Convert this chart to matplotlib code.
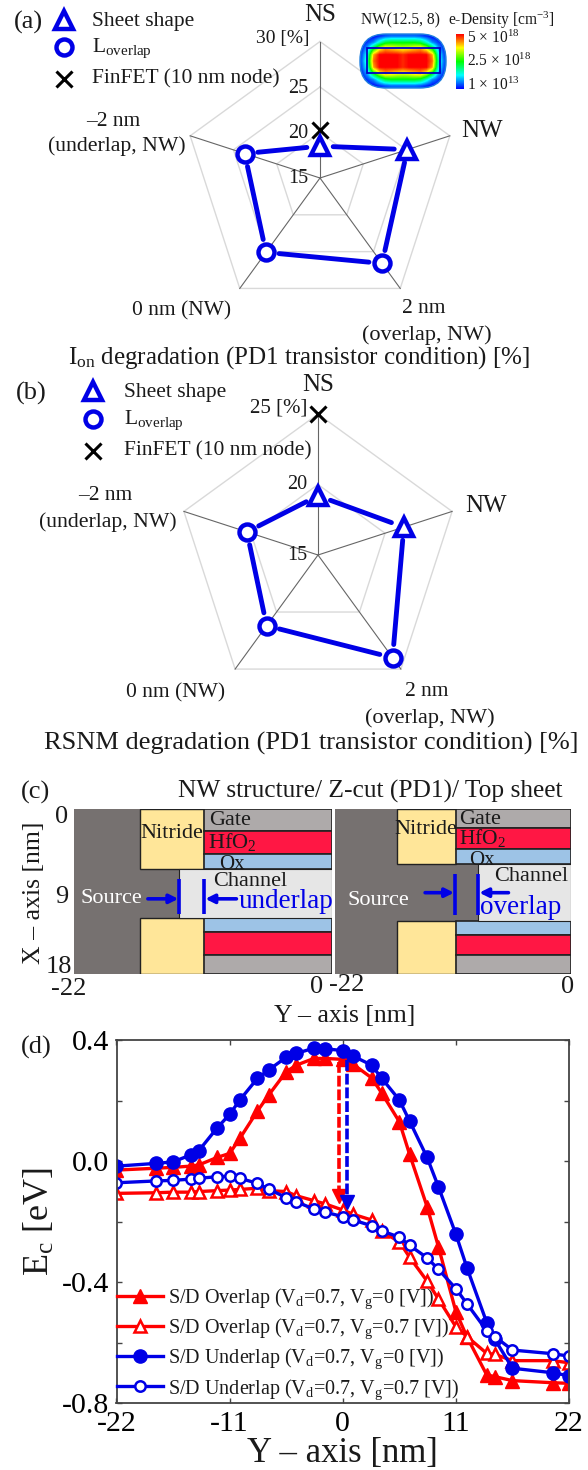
import numpy as np
import matplotlib
matplotlib.use('Agg')
import matplotlib.pyplot as plt
from matplotlib.colors import LinearSegmentedColormap
from matplotlib.patches import FancyBboxPatch, Rectangle
from matplotlib.cm import ScalarMappable

plt.rcParams['font.family'] = ['Liberation Serif', 'DejaVu Serif']
plt.rcParams['mathtext.fontset'] = 'custom'
plt.rcParams['mathtext.rm'] = 'Liberation Serif'
plt.rcParams['mathtext.it'] = 'Liberation Serif:italic'
plt.rcParams['mathtext.bf'] = 'Liberation Serif:bold'
plt.rcParams['axes.unicode_minus'] = False

# radar data, axes run clockwise from NS
radar_axes = ['NS', 'NW', '2 nm', '0 nm', '-2 nm']
a_values = [18.5, 25.1, 26.6, 25.1, 23.7]
a_finfet = 20.3
a_rings = [20, 25, 30]
b_values = [19.2, 21.4, 24.0, 21.2, 20.3]
b_finfet = 25
b_rings = [20, 25]

# e-density inset, units of 1e18 cm-3
density = [
    [0.0, 0.0, 0.0, 0.2, 0.4, 0.5, 0.5, 0.5, 0.5, 0.5, 0.4, 0.2, 0.0, 0.0, 0.0],
    [0.0, 0.3, 0.7, 1.5, 2.2, 2.4, 2.4, 2.4, 2.4, 2.4, 2.2, 1.5, 0.7, 0.3, 0.0],
    [0.2, 0.9, 2.4, 3.6, 4.2, 4.0, 3.8, 3.7, 3.8, 4.0, 4.2, 3.6, 2.4, 0.9, 0.2],
    [0.4, 1.5, 4.2, 5.0, 5.0, 5.0, 5.0, 4.8, 5.0, 5.0, 5.0, 5.0, 4.2, 1.5, 0.4],
    [0.5, 1.8, 4.5, 5.0, 5.0, 5.0, 5.0, 4.8, 5.0, 5.0, 5.0, 5.0, 4.5, 1.8, 0.5],
    [0.4, 1.5, 4.2, 5.0, 5.0, 5.0, 5.0, 4.8, 5.0, 5.0, 5.0, 5.0, 4.2, 1.5, 0.4],
    [0.2, 0.9, 2.4, 3.6, 4.2, 4.0, 3.8, 3.7, 3.8, 4.0, 4.2, 3.6, 2.4, 0.9, 0.2],
    [0.0, 0.3, 0.7, 1.5, 2.2, 2.4, 2.4, 2.4, 2.4, 2.4, 2.2, 1.5, 0.7, 0.3, 0.0],
    [0.0, 0.0, 0.0, 0.2, 0.4, 0.5, 0.5, 0.5, 0.5, 0.5, 0.4, 0.2, 0.0, 0.0, 0.0],
]

# structure layers for (c): spacer_end, channel_start, then X boundaries
under_spacer = (-16.33, -10.94)
under_channel_y = -13.03
under_x = [2.44, 4.87, 6.55, 11.9, 13.45, 15.96]
over_spacer = (-16.2, -10.75)
over_channel_y = -8.66
over_x = [2.07, 4.36, 5.96, 12.18, 13.7, 15.96]

# Ec profiles for (d)
y_pos = [-22, -18.2, -16.5, -14.8, -14, -12.2, -11, -10, -8.3, -7.2, -5.5, -4.5, -2.8, -1.7,
         0, 1, 2.8, 3.8, 5.5, 6.5, 8.2, 9.3, 11, 12.1, 14, 14.8, 16.5, 20.4, 22]
over_vg0 = [-.03, -.024, -.021, -.017, -.013, .012, .025, .075, .165, .218, .295, .317, .339, .339,
            .336, .32, .275, .224, .13, .022, -.151, -.283, -.498, -.583, -.707, -.713, -.726, -.733, -.735]
over_vg7 = [-.107, -.105, -.103, -.103, -.101, -.098, -.096, -.094, -.09, -.098, -.101, -.115, -.131, -.142,
            -.162, -.176, -.195, -.233, -.267, -.318, -.397, -.456, -.548, -.581, -.636, -.639, -.66, -.66, -.667]
under_vg0 = [-.017, -.008, -.003, .02, .034, .11, .154, .202, .273, .301, .343, .356, .373, .371,
             .365, .347, .317, .273, .202, .132, .012, -.085, -.242, -.355, -.534, -.59, -.685, -.70, -.71]
under_vg7 = [-.072, -.066, -.064, -.06, -.057, -.052, -.05, -.057, -.074, -.093, -.121, -.135, -.159, -.169,
             -.184, -.195, -.214, -.231, -.252, -.279, -.32, -.358, -.422, -.473, -.561, -.581, -.625, -.637, -.645]

BLUE = '#0000e6'
RED = '#ff0000'
TXT = '#1a1a1a'
W, H = 588, 1470

fig = plt.figure(figsize=(W / 100, H / 100), dpi=100, facecolor='white')


def rect(x0, y0, x1, y1):
    # pixel box -> figure fractions
    return [x0 / W, 1 - y1 / H, (x1 - x0) / W, (y1 - y0) / H]


def radar(cx, cy, R, rmax, rings, values, finfet):
    ax = fig.add_axes(rect(cx - R, cy - R, cx + R, cy + R), projection='polar')
    ax.set_theta_zero_location('N')
    ax.set_theta_direction(-1)
    ax.set_ylim(15, rmax)
    ax.set_axis_off()
    th = np.deg2rad(np.arange(5) * 72.0)
    thc = np.append(th, th[0])
    for r in rings:
        ax.plot(thc, [r] * 6, color='#d9d9d9', lw=1.0, clip_on=False)
    for t in th:
        ax.plot([t, t], [15, rmax], color='#666666', lw=0.8, clip_on=False)
    for i in range(5):
        j = (i + 1) % 5
        ax.annotate('', xy=(th[j], values[j]), xytext=(th[i], values[i]),
                    arrowprops=dict(arrowstyle='-', color=BLUE, lw=3.5, shrinkA=9.5, shrinkB=9.5))
    ax.plot(th[:2], values[:2], ls='none', marker='^', ms=13, mfc='white', mec=BLUE, mew=3.2, clip_on=False, zorder=5)
    ax.plot(th[2:], values[2:], ls='none', marker='o', ms=11.5, mfc='white', mec=BLUE, mew=3.2, clip_on=False, zorder=5)
    ax.plot([0], [finfet], ls='none', marker='x', ms=11, mec='black', mew=2.2, clip_on=False, zorder=4)
    return ax


radar(320, 178, 136.5, 30, a_rings, a_values, a_finfet)
radar(318, 555, 141, 25, b_rings, b_values, b_finfet)

# density inset
cmap = LinearSegmentedColormap.from_list('dens', ['#0000ff', '#00ffff', '#00ff00', '#ffff00', '#ff0000'])
ax_in = fig.add_axes(rect(359, 33, 447, 89))
ax_in.set_axis_off()
im = ax_in.imshow(density, cmap=cmap, vmin=0, vmax=5, aspect='auto', interpolation='bilinear',
                  extent=(0, 88, 56, 0))
clip = FancyBboxPatch((1, 1), 86, 54, boxstyle='round,pad=0,rounding_size=26', mutation_aspect=1,
                      transform=ax_in.transData, fc='none', ec='#1c7fe0', lw=1.0)
ax_in.add_patch(clip)
im.set_clip_path(clip)
ax_in.add_patch(Rectangle((8, 15), 73, 25, fc='none', ec='#0000c8', lw=1.3))
cax = fig.add_axes(rect(456, 34, 464, 89))
cb = fig.colorbar(ScalarMappable(cmap=cmap), cax=cax)
cb.set_ticks([])
cb.outline.set_visible(False)


def panel(box, spacer, channel_y, xs):
    ax = fig.add_axes(rect(*box))
    ax.set_xlim(-22, 0)
    ax.set_ylim(18, 0)
    ax.set_axis_off()
    s0, s1 = spacer
    ax.add_patch(Rectangle((-22, 0), 22, 18, fc='#767170', ec='none'))
    ax.add_patch(Rectangle((s0, 0), s1 - s0, xs[2], fc='#ffe699', ec='#222222', lw=1))
    ax.add_patch(Rectangle((s0, xs[3]), s1 - s0, 18 - xs[3], fc='#ffe699', ec='#222222', lw=1))
    tops = [0, xs[0], xs[1], xs[3], xs[4], xs[5]]
    bots = [xs[0], xs[1], xs[2], xs[4], xs[5], 18]
    cols = ['#aeaaaa', '#ff1744', '#9dc3e6', '#9dc3e6', '#ff1744', '#aeaaaa']
    for t, b, c in zip(tops, bots, cols):
        ax.add_patch(Rectangle((s1, t), -s1, b - t, fc=c, ec='#222222', lw=1.2))
    ax.add_patch(Rectangle((channel_y, xs[2]), -channel_y, xs[3] - xs[2], fc='#e6e6e6', ec='#222222', lw=0.8))
    return ax


ax_l = panel((74, 809, 332, 974), under_spacer, under_channel_y, under_x)
ax_r = panel((335, 809, 571, 974), over_spacer, over_channel_y, over_x)


def marks(ax, bars, x_rng, x_arrow, a_from, a_to):
    for b in bars:
        ax.plot([b, b], x_rng, color=BLUE, lw=2.6, solid_capstyle='butt')
    for f, t in zip(a_from, a_to):
        ax.annotate('', xy=(t, x_arrow), xytext=(f, x_arrow),
                    arrowprops=dict(arrowstyle='-|>', color=BLUE, lw=2.6, mutation_scale=13, shrinkA=0, shrinkB=0))


marks(ax_l, [-13.03, -10.9], [7.6, 11.5], 9.8, [-15.7, -8.15], [-13.1, -10.8])
marks(ax_r, [-10.8, -8.66], [7.1, 11.6], 9.13, [-13.6, -5.83], [-10.9, -8.55])

# Ec plot
ax = fig.add_axes(rect(116.5, 1040, 569, 1403))
ax.set_xlim(-22, 22)
ax.set_ylim(-0.8, 0.4)
ax.plot(y_pos, over_vg0, color=RED, lw=2.4, marker='^', ms=10, label=r'S/D Overlap (V$_{\mathrm{d}}$=0.7, V$_{\mathrm{g}}$=0 [V])')
ax.plot(y_pos, over_vg7, color=RED, lw=2.4, marker='^', ms=8, mfc='white', mew=1.8,
        label=r'S/D Overlap (V$_{\mathrm{d}}$=0.7, V$_{\mathrm{g}}$=0.7 [V])')
ax.plot(y_pos, under_vg0, color=BLUE, lw=2.4, marker='o', ms=9.5, label=r'S/D Underlap (V$_{\mathrm{d}}$=0.7, V$_{\mathrm{g}}$=0 [V])')
ax.plot(y_pos, under_vg7, color=BLUE, lw=2.4, marker='o', ms=7.5, mfc='white', mew=1.8,
        label=r'S/D Underlap (V$_{\mathrm{d}}$=0.7, V$_{\mathrm{g}}$=0.7 [V])')
ax.plot([-0.33, -0.33], [0.328, -0.10], color=RED, lw=2.6, ls=(0, (3, 0.8)), zorder=6)
ax.plot([-0.33], [-0.115], color=RED, marker='v', ms=10, ls='none', zorder=6)
ax.plot([0.39, 0.39], [0.334, -0.12], color=BLUE, lw=2.6, ls=(0, (3, 0.8)), zorder=6)
ax.plot([0.39], [-0.135], color=BLUE, marker='v', ms=10, ls='none', zorder=6)
ax.set_xticks([-22, -11, 0, 11, 22])
ax.set_yticks([-0.8, -0.4, 0.0, 0.4])
ax.set_yticks([-0.6, -0.2, 0.2], minor=True)
ax.set_yticklabels(['-0.8', '-0.4', '0.0', '0.4'])
ax.tick_params(which='both', direction='in', top=True, right=True, length=3.5, width=1, color='#444444')
ax.tick_params(axis='x', labelsize=21.5, pad=6)
ax.tick_params(axis='y', labelsize=21.5, pad=5.5)
for s in ax.spines.values():
    s.set_linewidth(1.3)
    s.set_color('#444444')
ax.legend(loc='lower left', bbox_to_anchor=(0, 0.004), frameon=False, fontsize=14.5, handlelength=2.33,
          handletextpad=0.25, labelspacing=0.28, borderaxespad=0, borderpad=0, labelcolor=TXT)
ax.set_xlabel('Y \u2013 axis [nm]', fontsize=25, labelpad=0, color=TXT)
ax.set_ylabel(r'E$_{\mathrm{c}}$ [eV]', fontsize=26, labelpad=3, color=TXT)

# overlay in pixel coordinates for the loose labels
ov = fig.add_axes([0, 0, 1, 1], zorder=10)
ov.set_xlim(0, W)
ov.set_ylim(H, 0)
ov.set_axis_off()
ov.patch.set_alpha(0)


def t(x, y, s, size=15.5, ha='center', color=TXT, **kw):
    ov.text(x, y, s, fontsize=size, ha=ha, va='center', color=color, **kw)


def legend_block(mx, tx, rows):
    ov.plot([mx], [rows[0]], ls='none', marker='^', ms=13, mfc='white', mec=BLUE, mew=3.2)
    ov.plot([mx], [rows[1]], ls='none', marker='o', ms=11.5, mfc='white', mec=BLUE, mew=3.2)
    ov.plot([mx], [rows[2]], ls='none', marker='x', ms=11, mec='black', mew=2.2)
    t(tx, rows[0] + 1, 'Sheet shape', ha='left')
    t(tx, rows[1] + 1, r'L$_{\mathrm{overlap}}$', ha='left')
    t(tx, rows[2], 'FinFET (10 nm node)', ha='left')


# (a)
t(28, 22, '(a)', size=19)
legend_block(64, 92.5, [20, 47, 79])
t(320, 15, 'NS', size=18)
t(309, 38, '30 [%]', size=14, ha='right')
t(298.5, 88, '25', size=14.5)
t(298.5, 133, '20', size=14.5)
t(298.5, 178, '15', size=14.5)
t(482, 131, 'NW', size=18)
t(113, 121, '\u20132 nm')
t(117, 146, '(underlap, NW)', size=15.7)
t(182, 311, '0 nm (NW)')
t(423.5, 308, '2 nm')
t(427, 335, '(overlap, NW)', size=16)
t(299, 358, r'I$_{\mathrm{on}}$ degradation (PD1 transistor condition) [%]', size=18)
t(361, 20, 'NW(12.5, 8)', size=11.2, ha='left')
t(448, 20, r'e-Density [cm$^{-3}$]', size=11.2, ha='left')
t(467, 38, r'5$\,\times\,$10$^{18}$', size=11.2, ha='left')
t(467, 61, r'2.5$\,\times\,$10$^{18}$', size=11.2, ha='left')
t(467, 85, r'1$\,\times\,$10$^{13}$', size=11.2, ha='left')

# (b)
t(31.5, 393, '(b)', size=19)
legend_block(92.6, 123.6, [391, 419, 451])
t(318, 385, 'NS', size=18)
t(307.5, 408, '25 [%]', size=15, ha='right')
t(297.5, 484, '20', size=14.5)
t(297.5, 555, '15', size=14.5)
t(486.5, 506, 'NW', size=18)
t(105, 495, '\u20132 nm')
t(108, 522, '(underlap, NW)', size=15.7)
t(176, 693, '0 nm (NW)')
t(426.5, 691, '2 nm')
t(430, 718, '(overlap, NW)', size=16)
t(311, 743, 'RSNM degradation (PD1 transistor condition) [%]', size=19)

# (c)
t(35.5, 792, '(c)', size=19)
t(562, 791, 'NW structure/ Z-cut (PD1)/ Top sheet', size=18.3, ha='right')
t(34.5, 893, 'X \u2013 axis [nm]', size=18.5, rotation=90)
t(62, 817, '0', size=19)
t(62, 897, '9', size=19)
t(59, 967, '18', size=19)
t(69, 989, '-22', size=19)
t(317, 987, '0', size=19)
t(347, 985, '-22', size=19)
t(568, 987, '0', size=19)
t(345, 1016, 'Y \u2013 axis [nm]', size=18.5)
t(230.5, 820, 'Gate', size=16)
t(171.5, 833, 'Nitride', size=16)
t(232.5, 842, r'HfO$_{2}$', size=16)
t(231.5, 864, 'Ox', size=15)
t(250, 881, 'Channel', size=16)
t(111.5, 898, 'Source', size=16, color='white')
t(285.5, 901, 'underlap', size=19.5, color=BLUE)
t(480.5, 819, 'Gate', size=16)
t(425.5, 829, 'Nitride', size=16)
t(483, 838, r'HfO$_{2}$', size=15.5)
t(481.5, 860, 'Ox', size=15)
t(531, 876, 'Channel', size=16)
t(378, 900, 'Source', size=16, color='white')
t(521, 907, 'overlap', size=19.5, color=BLUE)

# (d)
t(36, 1047, '(d)', size=19)

fig.savefig('out.png', dpi=100)
